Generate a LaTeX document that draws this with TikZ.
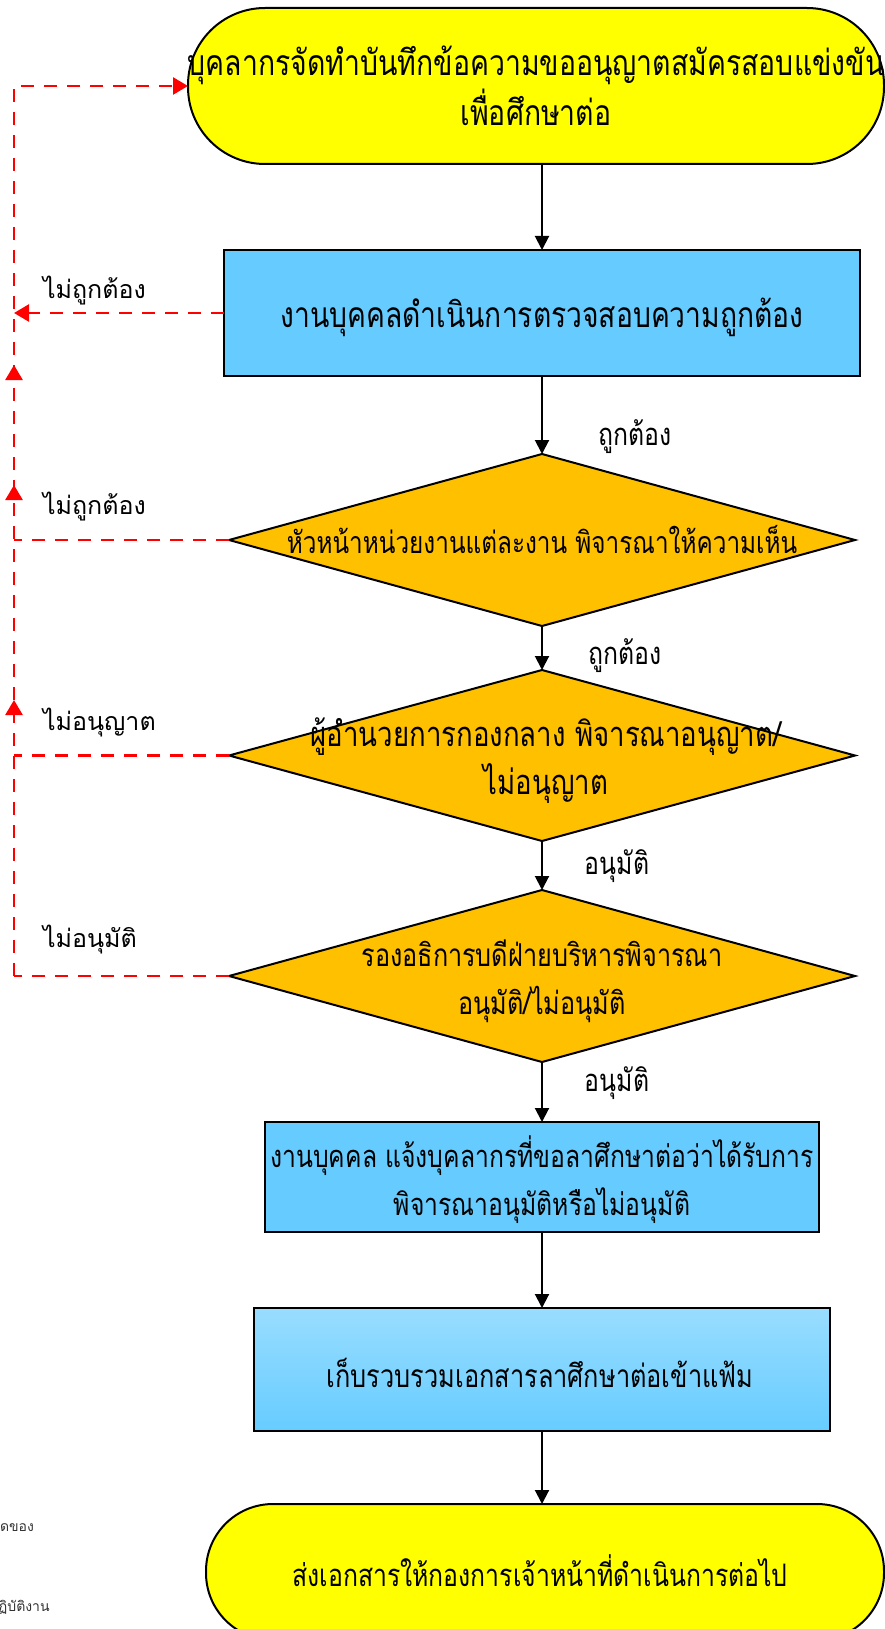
\documentclass[tikz,border=0pt]{standalone}
\usepackage{fontspec}
\usetikzlibrary{shapes.geometric,arrows.meta,calc}
\newfontfamily\thaimain[Script=Thai,FakeStretch=0.8]{Loma}
\newfontfamily\thaisub[Script=Thai]{Loma}
\definecolor{termyellow}{HTML}{FFFF00}
\definecolor{procblue}{HTML}{66CCFF}
\definecolor{procbluelight}{HTML}{99DDFF}
\definecolor{decorange}{HTML}{FFC000}
\definecolor{backred}{HTML}{FF0000}
\tikzset{
  every node/.style={inner sep=0pt, outer sep=0pt},
  terminal/.style={draw=black, line width=2pt, fill=termyellow},
  process/.style={draw=black, line width=2pt, fill=procblue},
  processgrad/.style={draw=black, line width=2pt, top color=procbluelight, bottom color=procblue},
  decision/.style={draw=black, line width=2pt, fill=decorange, shape=diamond},
  txt/.style={align=center, font=\thaimain\fontsize{#1}{48}\selectfont},
  txt/.default=31,
  lbl/.style={font=\thaimain\fontsize{31}{36}\selectfont},
  sidelbl/.style={anchor=west, font=\thaisub\fontsize{25}{28}\selectfont},
  note/.style={anchor=west, text=black!80, font=\thaisub\fontsize{14}{16}\selectfont},
  flow/.style={draw=black, line width=2pt, -{Triangle[length=14pt,width=14pt]}},
  fb/.style={draw=backred, line width=2.5pt, dash pattern=on 13pt off 10pt},
  fbarrow/.style={fb, -{Triangle[length=15pt,width=17pt]}},
  fbtip/.style={draw=backred, line width=2.5pt, -{Triangle[length=15pt,width=17pt]}}
}
\begin{document}
\begin{tikzpicture}[x=1pt,y=-1pt]
\useasboundingbox (0,0) rectangle (885,1629);
\clip (0,0) rectangle (885,1629);

% process shapes
\node[terminal, minimum width=696, minimum height=156, rounded corners=77] (t1) at (536,86) {};
\node[process, minimum width=636, minimum height=126] (r1) at (542,313) {};
\node[decision, minimum width=626, minimum height=172] (d1) at (542,540) {};
\node[decision, minimum width=626, minimum height=171] (d2) at (542,755.5) {};
\node[decision, minimum width=626, minimum height=172] (d3) at (542,976) {};
\node[process, minimum width=554, minimum height=110] (r2) at (542,1177) {};
\node[processgrad, minimum width=576, minimum height=123] (r3) at (542,1369.5) {};
\node[terminal, minimum width=678, minimum height=136, rounded corners=67] (t2) at (545,1572) {};

% texts inside the shapes
\node[txt=35.5, font=\thaimain\fontsize{35.5}{50}\selectfont] (t1t) at (536,86) {บุคลากรจัดทำบันทึกข้อความขออนุญาตสมัครสอบแข่งขัน\\เพื่อศึกษาต่อ};
\node[txt=35.3] (r1t) at (542,317) {งานบุคคลดำเนินการตรวจสอบความถูกต้อง};
\node[txt=30.4] (d1t) at (542,540) {หัวหน้าหน่วยงานแต่ละงาน พิจารณาให้ความเห็น};
\node[txt=34.5] (d2t) at (546,761) {ผู้อำนวยการกองกลาง พิจารณาอนุญาต/\\ไม่อนุญาต};
\node[txt=31.5] (d3t) at (542,981) {รองอธิการบดีฝ่ายบริหารพิจารณา\\อนุมัติ/ไม่อนุมัติ};
\node[txt=30.9] (r2t) at (542,1180) {งานบุคคล แจ้งบุคลากรที่ขอลาศึกษาต่อว่าได้รับการ\\พิจารณาอนุมัติหรือไม่อนุมัติ};
\node[txt=31.7] (r3t) at (540,1373) {เก็บรวบรวมเอกสารลาศึกษาต่อเข้าแฟ้ม};
\node[txt=31] (t2t) at (540,1571) {ส่งเอกสารให้กองการเจ้าหน้าที่ดำเนินการต่อไป};

% main flow
\draw[flow] (t1.south -| r1.north) -- (r1.north);
\draw[flow] (r1.south) -- (d1.north);
\draw[flow] (d1.south) -- (d2.north);
\draw[flow] (d2.south) -- (d3.north);
\draw[flow] (d3.south) -- (r2.north);
\draw[flow] (r2.south) -- (r3.north);
\draw[flow] (r3.south) -- (r3.south |- t2.north);

% labels on the main flow
\node[lbl] (ok1) at (635,437) {ถูกต้อง};
\node[lbl] (ok2) at (625,656) {ถูกต้อง};
\node[lbl] (ap1) at (617,866) {อนุมัติ};
\node[lbl] (ap2) at (617,1083) {อนุมัติ};

% return lane on the left
\coordinate (lane) at (14,0);
\coordinate (up1) at (14,365);
\coordinate (up2) at (14,485);
\coordinate (up3) at (14,700);
\draw[fbarrow] (lane |- d3.west) -- (lane |- t1.west) -- (t1.west);
\draw[fbarrow] (r1.west) -- (lane |- r1.west);
\draw[fb] (d1.west) -- (lane |- d1.west);
\draw[fb] (d2.west) -- (lane |- d2.west);
\draw[fb] (d3.west) -- (lane |- d3.west);
\draw[fbtip] ($(up1)+(0,14)$) -- (up1);
\draw[fbtip] ($(up2)+(0,14)$) -- (up2);
\draw[fbtip] ($(up3)+(0,14)$) -- (up3);

\node[sidelbl] (no1) at (43,291) {ไม่ถูกต้อง};
\node[sidelbl] (no2) at (43,507) {ไม่ถูกต้อง};
\node[sidelbl] (no3) at (43,723) {ไม่อนุญาต};
\node[sidelbl] (no4) at (43,940) {ไม่อนุมัติ};

% notes at the lower left edge
\node[note] (c1) at (0,1528) {ดของ};
\node[note] (c2) at (-2,1607) {ฏิบัติงาน};
\end{tikzpicture}
\end{document}
